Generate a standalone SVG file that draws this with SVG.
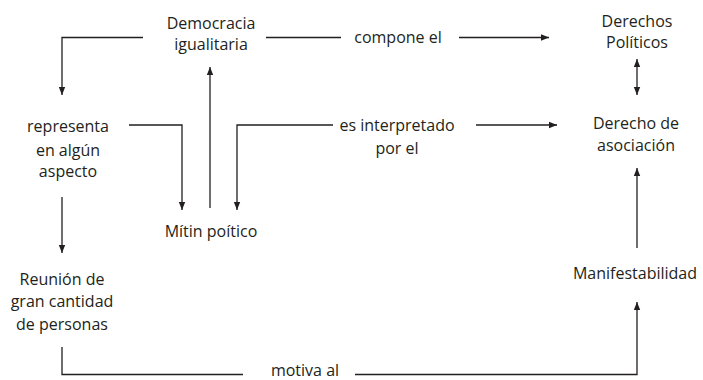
<svg xmlns="http://www.w3.org/2000/svg" width="703" height="380" viewBox="0 0 703 380">
<defs>
<marker id="ah" viewBox="0 0 8 8" refX="8" refY="4" markerWidth="8" markerHeight="8" markerUnits="userSpaceOnUse" orient="auto-start-reverse">
<path d="M0,0.8 L8,4 L0,7.2 Z" fill="#231f20"/>
</marker>
<style>
text{font-family:"Open Sans","Noto Sans",sans-serif;font-size:16px;fill:#231f20;text-anchor:middle}
.c{fill:none;stroke:#231f20;stroke-width:1.3}
</style>
</defs>
<rect width="703" height="380" fill="#fff"/>
<g id="n-democracia"><text x="211" y="29">Democracia</text><text x="211" y="50">igualitaria</text></g>
<g id="n-derechos"><text x="637" y="27">Derechos</text><text x="637" y="48">Políticos</text></g>
<g id="n-representa"><text x="68" y="132">representa</text><text x="68" y="156">en algún</text><text x="68" y="177">aspecto</text></g>
<g id="n-interpretado"><text x="397" y="131">es interpretado</text><text x="397" y="154">por el</text></g>
<g id="n-asociacion"><text x="636" y="129">Derecho de</text><text x="636" y="151">asociación</text></g>
<g id="n-mitin"><text x="211" y="237">Mítin poítico</text></g>
<g id="n-reunion"><text x="62" y="285">Reunión de</text><text x="62" y="307">gran cantidad</text><text x="62" y="330">de personas</text></g>
<g id="n-manifestabilidad"><text x="635" y="279">Manifestabilidad</text></g>
<g id="l-compone"><text x="398" y="43">compone el</text></g>
<g id="l-motiva"><text x="305" y="376">motiva al</text></g>
<g id="connectors">
<path class="c" d="M143,37.5 H62 V95" marker-end="url(#ah)"/>
<path class="c" d="M266,37.5 H341"/>
<path class="c" d="M459,37.5 H549" marker-end="url(#ah)"/>
<path class="c" d="M637,59 V95" marker-start="url(#ah)" marker-end="url(#ah)"/>
<path class="c" d="M129,125 H182 V210" marker-end="url(#ah)"/>
<path class="c" d="M333,125 H237 V210" marker-end="url(#ah)"/>
<path class="c" d="M476,125 H557" marker-end="url(#ah)"/>
<path class="c" d="M210,208 V67" marker-end="url(#ah)"/>
<path class="c" d="M62,197 V253" marker-end="url(#ah)"/>
<path class="c" d="M637,248 V168" marker-end="url(#ah)"/>
<path class="c" d="M62,347 V374.5 H243"/>
<path class="c" d="M355,374.5 H637 V302" marker-end="url(#ah)"/>
</g>
</svg>
